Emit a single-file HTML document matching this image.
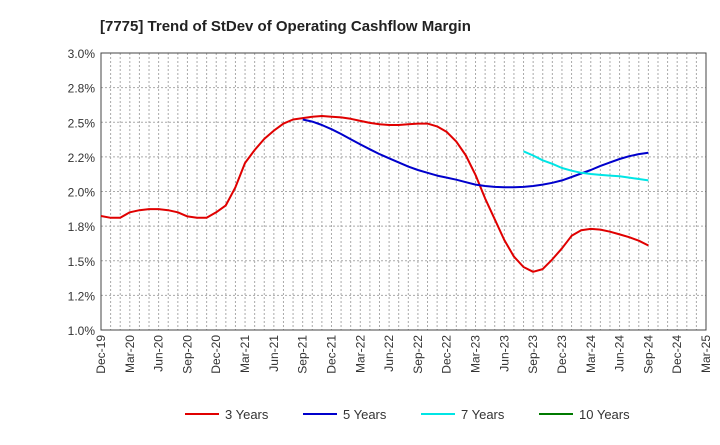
<!DOCTYPE html>
<html><head><meta charset="utf-8"><style>
body{margin:0;background:#fff;font-family:"Liberation Sans",sans-serif}
</style></head><body>
<svg id="c" width="720" height="440" xmlns="http://www.w3.org/2000/svg" font-family="Liberation Sans, sans-serif">
<text x="100" y="31" font-size="15" font-weight="bold" fill="#222">[7775]  Trend of StDev of Operating Cashflow Margin</text>
<g id="grid"></g><g id="axes"></g><g id="series"></g><g id="legend"></g>
</svg>
<script>
const xLabels=["Dec-19","Mar-20","Jun-20","Sep-20","Dec-20","Mar-21","Jun-21","Sep-21","Dec-21","Mar-22","Jun-22","Sep-22","Dec-22","Mar-23","Jun-23","Sep-23","Dec-23","Mar-24","Jun-24","Sep-24","Dec-24","Mar-25"];
const yTicks=[1.0,1.25,1.5,1.75,2.0,2.25,2.5,2.75,3.0];
const yTickLabels=["1.0%","1.2%","1.5%","1.8%","2.0%","2.2%","2.5%","2.8%","3.0%"];
// monthly values starting Dec-19 (month index 0)
const s3=[1.823,1.81,1.81,1.85,1.865,1.873,1.873,1.865,1.85,1.82,1.81,1.81,1.85,1.90,2.03,2.206,2.30,2.38,2.44,2.49,2.52,2.53,2.54,2.545,2.54,2.535,2.525,2.51,2.495,2.485,2.48,2.48,2.485,2.49,2.49,2.47,2.43,2.36,2.26,2.12,1.95,1.80,1.65,1.53,1.455,1.42,1.44,1.51,1.59,1.68,1.72,1.73,1.725,1.71,1.69,1.67,1.645,1.61];
const s5Start=21;
const s5=[2.52,2.505,2.48,2.45,2.415,2.377,2.34,2.305,2.27,2.24,2.21,2.18,2.155,2.135,2.115,2.10,2.085,2.067,2.05,2.04,2.033,2.03,2.03,2.033,2.04,2.05,2.063,2.08,2.105,2.13,2.155,2.185,2.21,2.235,2.255,2.27,2.28];
const s7Start=44;
const s7=[2.29,2.26,2.225,2.20,2.17,2.15,2.135,2.126,2.12,2.115,2.11,2.10,2.09,2.08];
const L=101,R=706,T=53,B=330,months=63;
const X=m=>L+(R-L)*m/months, Y=v=>B-(v-1)/2*(B-T);
const NS="http://www.w3.org/2000/svg";
function mk(p,t,a){const e=document.createElementNS(NS,t);for(const k in a)e.setAttribute(k,a[k]);p.appendChild(e);return e;}
const g=document.getElementById('grid'),ax=document.getElementById('axes'),se=document.getElementById('series'),lg=document.getElementById('legend');
for(let m=1;m<months;m++){const l=mk(g,'line',{x1:X(m),x2:X(m),y1:T,y2:B,stroke:'#aaa','stroke-dasharray':'2,2','stroke-width':1});

}
yTicks.forEach((v,i)=>{const l=mk(g,'line',{x1:L,x2:R,y1:Y(v),y2:Y(v),stroke:'#aaa','stroke-dasharray':'2,2'});


const t=mk(ax,'text',{x:L-6,y:Y(v)+5,'text-anchor':'end','font-size':12,fill:'#333'});t.textContent=yTickLabels[i];

});
const fr=mk(ax,'rect',{x:L,y:T,width:R-L,height:B-T,fill:'none',stroke:'#444'});


xLabels.forEach((s,i)=>{const x=X(i*3);const t=mk(ax,'text',{x:x+4,y:B+5,'text-anchor':'end','font-size':12,fill:'#333',transform:`rotate(-90 ${x+4} ${B+5})`});t.textContent=s;

});
function line(arr,start,color,name){const pts=arr.map((v,i)=>X(start+i).toFixed(1)+','+Y(v).toFixed(1)).join(' ');
const p=mk(se,'polyline',{points:pts,fill:'none',stroke:color,'stroke-width':2,'stroke-linejoin':'round'});

}
line(s3,0,'#e00000','series-3-years');line(s5,s5Start,'#0000cc','series-5-years');line(s7,s7Start,'#00e5e5','series-7-years');
const leg=[["3 Years","#e00000",185],["5 Years","#0000cc",303],["7 Years","#00e5e5",421],["10 Years","#007a00",539]];
leg.forEach(([n,c,x])=>{const gg=mk(lg,'g',{});
mk(gg,'line',{x1:x,x2:x+34,y1:414,y2:414,stroke:c,'stroke-width':2});
const t=mk(gg,'text',{x:x+40,y:419,'font-size':13,fill:'#333'});t.textContent=n;});
</script>
</body></html>
